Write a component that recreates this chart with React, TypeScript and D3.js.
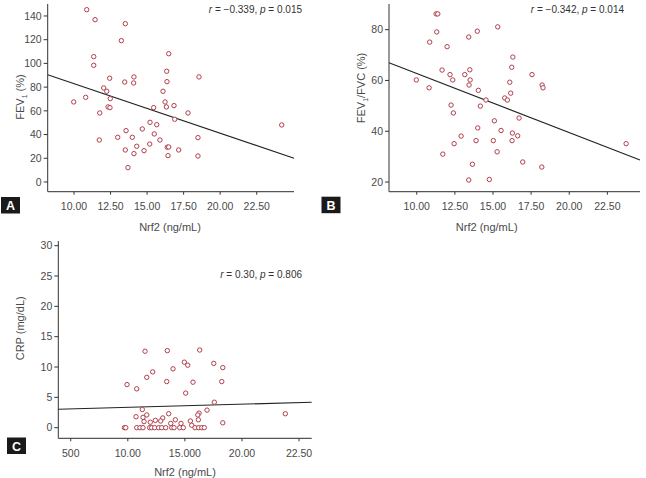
import React from "react";
import * as d3 from "d3";

// ---------- Panel A: FEV1 (%) vs Nrf2 ----------
const nrf2A = [10.87,11.44,13.51,13.24,11.35,11.35,16.48,16.34,16.36,18.55,12.44,13.47,14.10,14.08,12.03,12.24,12.48,9.98,10.80,12.33,12.46,11.76,16.09,16.23,16.32,15.45,16.84,17.80,16.89,15.20,15.66,14.67,13.56,15.49,11.73,12.99,13.99,15.88,14.29,15.18,16.38,16.48,13.51,14.10,14.79,17.16,16.43,13.69,18.48,18.48,24.21];
const fev1 = [145.3,136.9,133.5,119.2,105.7,98.4,108.2,93.4,84.6,88.6,87.5,84.3,88.6,83.5,79.3,76.5,70.3,67.5,71.4,63.3,62.7,58.2,76.5,67.5,63.3,62.7,64.4,58.2,52.9,50.3,48.3,44.7,43.3,40.5,35.4,37.7,37.7,35.4,30.1,32.0,29.3,29.5,27.0,23.9,26.4,27.0,22.2,12.1,37.4,21.9,48.1];
const fitAx = [8.2, 25.05];
const fitAy = [90.5, 20.0];
const yTicksA = [0, 20, 40, 60, 80, 100, 120, 140];
const xTicksAB = [10, 12.5, 15, 17.5, 20, 22.5];
const xTickLabelsAB = ["10.00", "12.50", "15.00", "17.50", "20.00", "22.50"];

// ---------- Panel B: FEV1/FVC (%) vs Nrf2 ----------
const nrf2B = [11.27,11.38,15.31,11.31,13.97,13.41,10.85,11.99,11.66,13.48,12.18,13.15,9.97,12.36,13.50,13.43,10.81,14.04,14.54,14.17,12.25,12.40,15.09,14.00,15.53,12.91,13.89,15.02,12.45,15.27,11.71,13.65,13.41,14.76,16.30,16.23,17.56,16.10,18.22,18.28,16.16,15.77,15.94,16.71,16.27,16.62,16.25,16.95,18.20,23.73];
const fevFvc = [86.2,86.2,81.1,79.1,79.4,77.1,75.1,73.3,64.1,64.2,62.3,62.3,60.2,60.2,60.2,58.2,57.1,56.1,52.3,49.9,50.3,47.2,44.1,41.3,40.3,38.1,36.3,36.3,35.1,31.9,31.0,27.0,20.8,21.0,69.2,65.2,62.3,59.3,58.2,57.1,55.0,53.1,52.3,45.2,39.3,38.2,36.3,27.9,25.9,35.1];
const fitBx = [8.18, 24.64];
const fitBy = [67.0, 28.65];
const yTicksB = [20, 40, 60, 80];

// ---------- Panel C: CRP (mg/dL) vs Nrf2 ----------
const nrf2C = [11.51,13.46,16.30,14.95,15.25,17.53,18.32,13.96,12.18,11.66,13.41,15.71,18.23,9.93,10.78,15.07,17.58,
  11.27,16.94,16.24,16.13,23.80,11.66,10.72,11.33,13.58,11.42,13.06,14.16,12.41,12.88,11.97,16.18,15.48,14.66,13.76,15.60,18.32,
  9.70,9.82,10.78,11.07,11.33,11.92,12.09,12.35,12.70,12.97,13.32,13.85,14.05,14.55,14.86,15.89,16.21,16.48,16.70];
const crp = [12.6,12.7,12.8,10.8,10.3,10.6,9.9,9.7,9.2,8.3,7.6,7.5,7.6,7.1,6.4,5.7,4.2,
  3.0,2.9,2.4,2.1,2.3,2.1,1.8,1.7,2.3,1.0,1.6,1.3,1.2,1.1,0.9,1.3,1.1,0.7,0.7,0.4,0.8,
  0,0,0,0,0,0,0,0,0,0,0,0,0,0,0,0,0,0,0];
const fitCx = [3.91, 26.11];
const fitCy = [3.03, 4.19];
const yTicksC = [0, 5, 10, 15, 20, 25, 30];
const xTicksC = [5, 10, 15, 20, 25];
const xTickLabelsC = ["500", "10.00", "15.000", "20.00", "22.50"];

const FONT = "'Liberation Sans Narrow', 'Arial Narrow', 'Liberation Sans', sans-serif";
const TXT = "#4a4a4a";
const PT = "#b0404c";

type PanelProps = {
  xs: number[]; ys: number[];
  fitX: number[]; fitY: number[];
  xDomain: [number, number]; xRange: [number, number];
  yDomain: [number, number]; yRange: [number, number];
  yTicks: number[]; xTicks: number[]; xLabels: string[];
  annot: { r: string; p: string; x: number; y: number };
  yTitle: React.ReactNode; yTitleX: number; yTitleY: number;
  xTitleX: number; xTitleY: number;
  letter: string; boxX: number; boxY: number;
};

function Panel(p: PanelProps) {
  const x = d3.scaleLinear().domain(p.xDomain).range(p.xRange);
  const y = d3.scaleLinear().domain(p.yDomain).range(p.yRange);
  const x0 = p.xRange[0];
  const yb = p.yRange[0];
  const line = d3.line<number>().x((_, i) => x(p.fitX[i])).y((d) => y(d));
  return (
    <g>
      {/* axes */}
      <line x1={x0} x2={x0} y1={p.yRange[1]} y2={yb} stroke="#333" strokeWidth={1} />
      <line x1={x0} x2={p.xRange[1]} y1={yb} y2={yb} stroke="#555" strokeWidth={1.2} />
      {p.yTicks.map((t) => (
        <g key={"y" + t}>
          <line x1={x0 - 4} x2={x0} y1={y(t)} y2={y(t)} stroke="#333" />
          <text x={x0 - 6} y={y(t)} dy="0.35em" textAnchor="end" fontSize={10.5} fill={TXT} fontFamily={FONT}>{t}</text>
        </g>
      ))}
      {p.xTicks.map((t, i) => (
        <g key={"x" + t}>
          <line x1={x(t)} x2={x(t)} y1={yb} y2={yb + 3} stroke="#333" />
          <text x={x(t)} y={yb + 15} dy="0.35em" textAnchor="middle" fontSize={10.5} fill={TXT} fontFamily={FONT}>{p.xLabels[i]}</text>
        </g>
      ))}
      {/* fit line */}
      <path d={line(p.fitY) || ""} fill="none" stroke="#222" strokeWidth={1.1} />
      {/* points */}
      {p.xs.map((v, i) => (
        <circle key={i} cx={x(v)} cy={y(p.ys[i])} r={2.2} fill="white" stroke={PT} strokeWidth={1} />
      ))}
      {/* annotation */}
      <text x={p.annot.x} y={p.annot.y} dy="0.35em" textAnchor="end" fontSize={10} fill="#333" fontFamily={FONT}>
        <tspan fontStyle="italic">r</tspan>
        {" = " + p.annot.r + ", "}
        <tspan fontStyle="italic">p</tspan>
        {" = " + p.annot.p}
      </text>
      {/* titles */}
      <text transform={`translate(${p.yTitleX},${p.yTitleY}) rotate(-90)`} dy="0.35em" textAnchor="middle" fontSize={11} fill={TXT} fontFamily={FONT}>{p.yTitle}</text>
      <text x={p.xTitleX} y={p.xTitleY} dy="0.35em" textAnchor="middle" fontSize={11} fill={TXT} fontFamily={FONT}>Nrf2 (ng/mL)</text>
      {/* panel letter */}
      <rect x={p.boxX} y={p.boxY} width={19} height={16.5} fill="#1a1a1a" />
      <text x={p.boxX + 9.5} y={p.boxY + 8.5} dy="0.36em" textAnchor="middle" fontSize={12.5} fontWeight="bold" fill="white" fontFamily="'Liberation Sans', Arial, sans-serif">{p.letter}</text>
    </g>
  );
}

export default function App() {
  return (
    <svg width={646} height={478} style={{ position: "absolute", left: 0, top: 0, background: "white" }}>
      <rect width={646} height={478} fill="white" />
      <Panel
        xs={nrf2A} ys={fev1} fitX={fitAx} fitY={fitAy}
        xDomain={[8.2, 25.05]} xRange={[47.7, 294]}
        yDomain={[-8.2, 150.1]} yRange={[191.7, 4]}
        yTicks={yTicksA} xTicks={xTicksAB} xLabels={xTickLabelsAB}
        annot={{ r: "\u22120.339", p: "0.015", x: 302, y: 9.5 }}
        yTitle={<>FEV<tspan fontSize={7} dy="3">1</tspan><tspan dy="-3"> (%)</tspan></>}
        yTitleX={20} yTitleY={97}
        xTitleX={170} xTitleY={227}
        letter="A" boxX={1} boxY={197}
      />
      <Panel
        xs={nrf2B} ys={fevFvc} fitX={fitBx} fitY={fitBy}
        xDomain={[8.18, 24.64]} xRange={[389, 640]}
        yDomain={[16.2, 90.1]} yRange={[191.7, 4]}
        yTicks={yTicksB} xTicks={xTicksAB} xLabels={xTickLabelsAB}
        annot={{ r: "\u22120.342", p: "0.014", x: 624, y: 9.5 }}
        yTitle={<>FEV<tspan fontSize={7} dy="3">1</tspan><tspan dy="-3">/FVC (%)</tspan></>}
        yTitleX={361.5} yTitleY={88}
        xTitleX={486.7} xTitleY={227}
        letter="B" boxX={321.5} boxY={196.7}
      />
      <Panel
        xs={nrf2C} ys={crp} fitX={fitCx} fitY={fitCy}
        xDomain={[3.91, 26.11]} xRange={[58.3, 311.7]}
        yDomain={[-1.75, 30.77]} yRange={[438.3, 241]}
        yTicks={yTicksC} xTicks={xTicksC} xLabels={xTickLabelsC}
        annot={{ r: "0.30", p: "0.806", x: 302, y: 274.3 }}
        yTitle={"CRP (mg/dL)"}
        yTitleX={20.5} yTitleY={328.3}
        xTitleX={185} xTitleY={471.7}
        letter="C" boxX={7} boxY={437.5}
      />
    </svg>
  );
}
